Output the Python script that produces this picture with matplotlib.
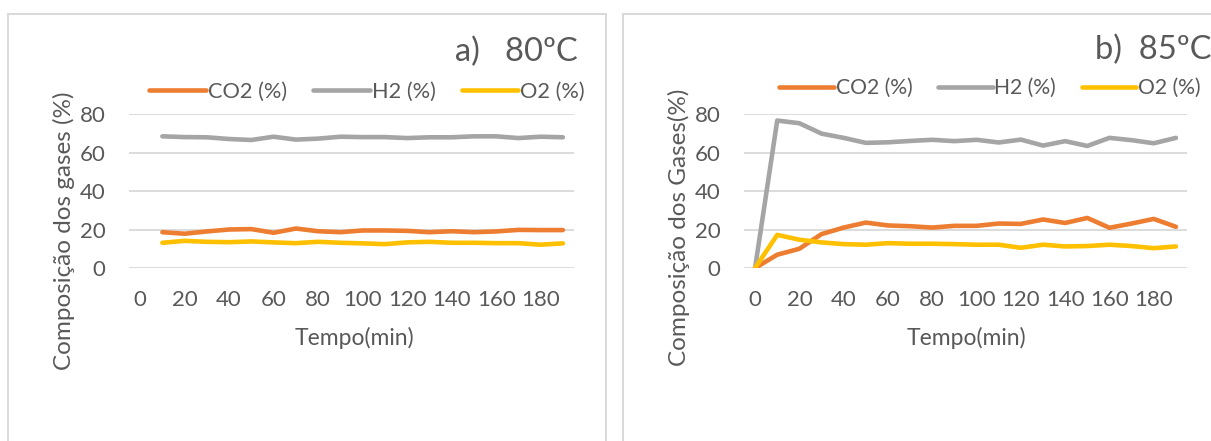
import numpy as np
import matplotlib
matplotlib.use("Agg")
import matplotlib.pyplot as plt
from matplotlib.patches import Rectangle

plt.rcParams['font.family'] = ['Lato', 'DejaVu Sans']

# tempo (min): categorias 0..190
tempo = list(range(0, 200, 10))
rotulos_x = [str(t) if t % 20 == 0 else "" for t in tempo]

# a) 80ºC  (sem leitura em t=0)
co2_80 = [np.nan, 18.6, 17.8, 19.0, 20.0, 20.2, 18.3, 20.5, 19.1, 18.6, 19.5,
          19.5, 19.3, 18.6, 19.1, 18.6, 19.0, 19.8, 19.7, 19.7]
h2_80 = [np.nan, 68.4, 68.0, 67.9, 67.0, 66.5, 68.2, 66.7, 67.2, 68.2, 68.0,
         68.0, 67.5, 67.9, 67.9, 68.4, 68.4, 67.5, 68.2, 67.9]
o2_80 = [np.nan, 13.1, 14.1, 13.6, 13.4, 13.8, 13.3, 12.9, 13.6, 13.1, 12.8,
         12.4, 13.3, 13.6, 13.1, 13.1, 12.9, 12.9, 12.1, 12.8]

# b) 85ºC
co2_85 = [0, 6.9, 10.0, 17.6, 21.0, 23.6, 22.1, 21.7, 21.0, 21.9, 21.9,
          23.1, 22.9, 25.2, 23.4, 26.0, 20.9, 23.1, 25.5, 21.4]
h2_85 = [0, 76.6, 75.2, 69.8, 67.6, 65.0, 65.3, 66.0, 66.6, 65.9, 66.6,
         65.2, 66.7, 63.6, 65.9, 63.4, 67.6, 66.4, 64.8, 67.6]
o2_85 = [0, 17.2, 14.7, 13.3, 12.4, 12.1, 12.9, 12.6, 12.6, 12.4, 12.1,
         12.1, 10.5, 12.1, 11.2, 11.4, 12.1, 11.4, 10.3, 11.2]

cor_texto = "#595959"
cores = {"CO2 (%)": "#ED7D31", "H2 (%)": "#A5A5A5", "O2 (%)": "#FFC000"}

W, H = 1211, 441
fig = plt.figure(figsize=(W / 100, H / 100), dpi=100)


def px(x0, y0, w, h):
    # caixa em pixels (origem em cima à esquerda) -> coordenadas da figura
    return [x0 / W, 1 - (y0 + h) / H, w / W, h / H]


def grafico(rect, serie_co2, serie_h2, serie_o2):
    ax = fig.add_axes(px(*rect))
    for nome, y in zip(cores, (serie_co2, serie_h2, serie_o2)):
        ax.plot(tempo, y, color=cores[nome], lw=3.3, label=nome,
                solid_capstyle="round", solid_joinstyle="round")
    ax.set_xlim(-5, 195)
    ax.set_ylim(0, 80)
    ax.set_yticks([0, 20, 40, 60, 80])
    ax.set_xticks(tempo)
    ax.set_xticklabels(rotulos_x)
    ax.grid(axis="y", color="#D9D9D9", lw=1.3)
    ax.set_axisbelow(True)
    for s in ax.spines.values():
        s.set_visible(False)
    ax.tick_params(length=0, labelsize=16, colors=cor_texto)
    ax.tick_params(axis="y", pad=17)
    ax.tick_params(axis="x", pad=16)
    return ax


# molduras dos dois gráficos
fig.patches.append(Rectangle((8 / W, -0.1), 598 / W, 1.1 - 14 / H,
                             transform=fig.transFigure, fill=False,
                             ec="#D9D9D9", lw=1.4))
fig.patches.append(Rectangle((623 / W, -0.1), 700 / W, 1.1 - 14 / H,
                             transform=fig.transFigure, fill=False,
                             ec="#D9D9D9", lw=1.4))

ax1 = grafico((129, 114, 445, 154), co2_80, h2_80, o2_80)
ax2 = grafico((744, 114, 443, 154), co2_85, h2_85, o2_85)

for ax, cx, cy, fs in ((ax1, 367, 92, 15.7), (ax2, 990, 88, 15.2)):
    ax.legend(loc="center", bbox_to_anchor=(cx / W, 1 - cy / H),
              bbox_transform=fig.transFigure, ncol=3, frameon=False,
              fontsize=fs, labelcolor=cor_texto, handlelength=2.6,
              handletextpad=0.08, columnspacing=1.2, borderpad=0)

fig.text(455 / W, 1 - 52 / H, "a)   80ºC", fontsize=23.5, color=cor_texto,
         ha="left", va="center")
fig.text(1095 / W, 1 - 50 / H, "b)  85ºC", fontsize=23.5, color=cor_texto,
         ha="left", va="center")

fig.text(64 / W, 1 - 231 / H, "Composição dos gases (%)", fontsize=17.5,
         color=cor_texto, rotation=90, ha="center", va="center")
fig.text(679 / W, 1 - 227 / H, "Composição dos Gases(%)", fontsize=17.5,
         color=cor_texto, rotation=90, ha="center", va="center")

fig.text(354 / W, 1 - 338 / H, "Tempo(min)", fontsize=16.5, color=cor_texto,
         ha="center", va="center")
fig.text(966 / W, 1 - 338 / H, "Tempo(min)", fontsize=16.5, color=cor_texto,
         ha="center", va="center")

fig.savefig("out.png", dpi=100)
